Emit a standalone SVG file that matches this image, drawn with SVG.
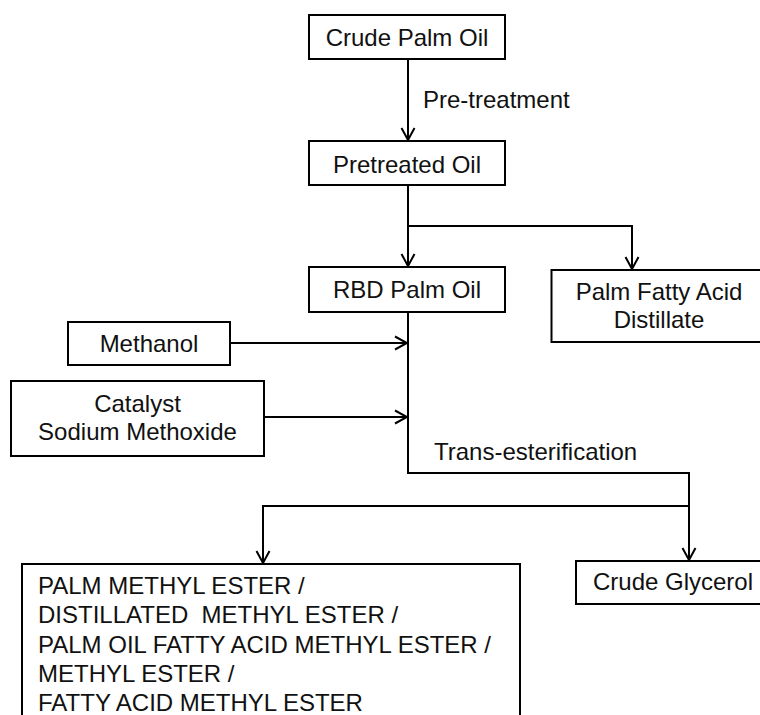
<svg xmlns="http://www.w3.org/2000/svg" width="760" height="715" viewBox="0 0 760 715">
<style>
.box{fill:#fff;stroke:#000;stroke-width:2}
.t{font-family:"Liberation Sans",Arial,sans-serif;font-size:24px;fill:#111;white-space:pre}
.c{text-anchor:middle}
.ln{fill:none;stroke:#000;stroke-width:2}
</style>
<defs>
<marker id="ah" viewBox="-14 -8 16 16" refX="0" refY="0" markerWidth="16" markerHeight="16" markerUnits="userSpaceOnUse" orient="auto">
<path d="M-12,-6.5 L0,0 L-12,6.5" fill="none" stroke="#000" stroke-width="2"/>
</marker>
</defs>
<rect width="760" height="715" fill="#fff"/>
<g id="connectors">
<path class="ln" d="M408,59 V140" marker-end="url(#ah)"/>
<path class="ln" d="M408,185 V266" marker-end="url(#ah)"/>
<path class="ln" d="M408,226 H632 V269" marker-end="url(#ah)"/>
<path class="ln" d="M408,312 V473 H689 V560" marker-end="url(#ah)"/>
<path class="ln" d="M230,343 H407" marker-end="url(#ah)"/>
<path class="ln" d="M264,417 H407" marker-end="url(#ah)"/>
<path class="ln" d="M689,506 H263 V563" marker-end="url(#ah)"/>
<text class="t" x="423" y="108">Pre-treatment</text>
<text class="t" x="434" y="460">Trans-esterification</text>
</g>
<g id="crude-palm-oil">
<rect class="box" x="309" y="15" width="196" height="44"/>
<text class="t c" x="407" y="45.5">Crude Palm Oil</text>
</g>
<g id="pretreated-oil">
<rect class="box" x="309" y="141" width="196" height="44"/>
<text class="t c" x="407" y="172.5">Pretreated Oil</text>
</g>
<g id="rbd-palm-oil">
<rect class="box" x="309" y="267" width="196" height="45"/>
<text class="t c" x="407" y="298">RBD Palm Oil</text>
</g>
<g id="pfad">
<rect class="box" x="551.5" y="270" width="216" height="72"/>
<text class="t c" x="659" y="300">Palm Fatty Acid</text>
<text class="t c" x="659" y="328">Distillate</text>
</g>
<g id="methanol">
<rect class="box" x="68" y="322" width="162" height="43"/>
<text class="t c" x="149" y="351.5">Methanol</text>
</g>
<g id="catalyst">
<rect class="box" x="11" y="381" width="253" height="75"/>
<text class="t c" x="137.5" y="411.5">Catalyst</text>
<text class="t c" x="137.5" y="440">Sodium Methoxide</text>
</g>
<g id="methyl-ester">
<rect class="box" x="22" y="564" width="498" height="170"/>
<text class="t" x="38" y="594">PALM METHYL ESTER /</text>
<text class="t" x="38" y="623" xml:space="preserve">DISTILLATED  METHYL ESTER /</text>
<text class="t" x="38" y="652.5">PALM OIL FATTY ACID METHYL ESTER /</text>
<text class="t" x="38" y="681.5">METHYL ESTER /</text>
<text class="t" x="38" y="710.5">FATTY ACID METHYL ESTER</text>
</g>
<g id="crude-glycerol">
<rect class="box" x="576" y="561" width="194" height="43"/>
<text class="t c" x="673" y="590">Crude Glycerol</text>
</g>
</svg>
